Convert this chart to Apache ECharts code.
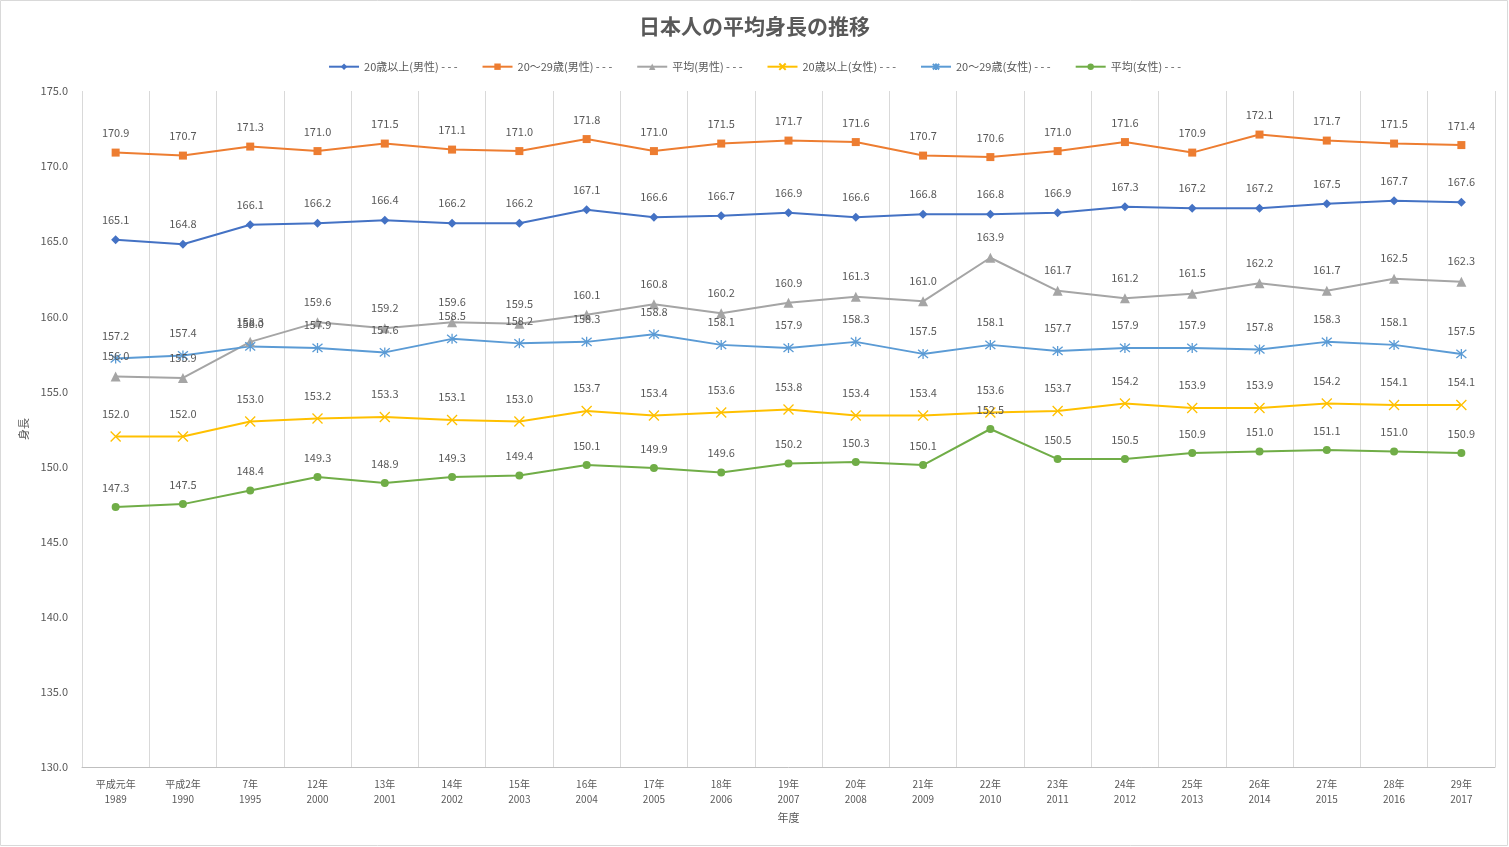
<!DOCTYPE html>
<html><head><meta charset="utf-8">
<script src="https://cdn.jsdelivr.net/npm/echarts@6/dist/echarts.min.js"></script>
<style>html,body{margin:0;padding:0;background:#fff}#c{width:1509px;height:847px}</style>
</head><body><div id="c"></div>
<script>
const categories = ['平成元年\n1989','平成2年\n1990','7年\n1995','12年\n2000','13年\n2001','14年\n2002','15年\n2003','16年\n2004','17年\n2005','18年\n2006','19年\n2007','20年\n2008','21年\n2009','22年\n2010','23年\n2011','24年\n2012','25年\n2013','26年\n2014','27年\n2015','28年\n2016','29年\n2017'];
const male20plus = [165.1,164.8,166.1,166.2,166.4,166.2,166.2,167.1,166.6,166.7,166.9,166.6,166.8,166.8,166.9,167.3,167.2,167.2,167.5,167.7,167.6];
const male20s = [170.9,170.7,171.3,171.0,171.5,171.1,171.0,171.8,171.0,171.5,171.7,171.6,170.7,170.6,171.0,171.6,170.9,172.1,171.7,171.5,171.4];
const maleAvg = [156.0,155.9,158.3,159.6,159.2,159.6,159.5,160.1,160.8,160.2,160.9,161.3,161.0,163.9,161.7,161.2,161.5,162.2,161.7,162.5,162.3];
const female20plus = [152.0,152.0,153.0,153.2,153.3,153.1,153.0,153.7,153.4,153.6,153.8,153.4,153.4,153.6,153.7,154.2,153.9,153.9,154.2,154.1,154.1];
const female20s = [157.2,157.4,158.0,157.9,157.6,158.5,158.2,158.3,158.8,158.1,157.9,158.3,157.5,158.1,157.7,157.9,157.9,157.8,158.3,158.1,157.5];
const femaleAvg = [147.3,147.5,148.4,149.3,148.9,149.3,149.4,150.1,149.9,149.6,150.2,150.3,150.1,152.5,150.5,150.5,150.9,151.0,151.1,151.0,150.9];
const seriesNames = ['20歳以上(男性) - - -','20～29歳(男性) - - -','平均(男性) - - -','20歳以上(女性) - - -','20～29歳(女性) - - -','平均(女性) - - -'];
const colors = ['#4472C4','#ED7D31','#A5A5A5','#FFC000','#5B9BD5','#70AD47'];
const yTicks = {min:130, max:175, interval:5};

const FONT = '"Noto Sans CJK JP", "Noto Sans", sans-serif';
const xPath = 'path://M0,0L10,10M10,0L0,10';
const starPath = 'path://M0,0L10,10M10,0L0,10M5,-1L5,11';
const symbols = [
  {symbol:'diamond', size:9, stroke:false},
  {symbol:'rect', size:8, stroke:false},
  {symbol:'triangle', size:10, stroke:false},
  {symbol:xPath, size:10, stroke:true},
  {symbol:starPath, size:10, stroke:true},
  {symbol:'circle', size:8, stroke:false}
];
const datas = [male20plus, male20s, maleAvg, female20plus, female20s, femaleAvg];

const series = datas.map((d,i)=>({
  name: seriesNames[i],
  type: 'line',
  data: d,
  symbol: symbols[i].symbol,
  symbolSize: symbols[i].size,
  showAllSymbol: true,
  lineStyle: {color: colors[i], width: 2},
  itemStyle: symbols[i].stroke ? {color: 'none', borderColor: colors[i], borderWidth: 1.3} : {color: colors[i]},
  label: {show: true, position: 'top', distance: 10, color: '#595959', fontSize: 11, fontFamily: FONT,
          formatter: p => p.value.toFixed(1)},
  emphasis: {disabled: true},
  animation: false
}));

const chart = echarts.init(document.getElementById('c'), null, {renderer:'canvas'});
chart.setOption({
  animation: false,
  color: colors,
  title: {text: '日本人の平均身長の推移', left: 'center', top: 11,
          textStyle: {fontFamily: FONT, fontSize: 21, fontWeight: 'bold', color: '#595959'}},
  legend: {top: 56, left: 'center', itemGap: 24, itemWidth: 30, itemHeight: 8,
           textStyle: {fontFamily: FONT, fontSize: 11, color: '#595959'},
           data: seriesNames},
  grid: {left: 82, right: 14, top: 91, bottom: 80, containLabel: false},
  xAxis: {
    type: 'category', data: categories, boundaryGap: true,
    name: '年度', nameLocation: 'middle', nameGap: 44,
    nameTextStyle: {fontFamily: FONT, fontSize: 11, color: '#595959'},
    axisLine: {show: true, lineStyle: {color: '#BFBFBF'}},
    axisTick: {show: false},
    splitLine: {show: true, lineStyle: {color: '#D9D9D9'}},
    axisLabel: {fontFamily: FONT, fontSize: 10, color: '#595959', lineHeight: 15, margin: 10, interval: 0}
  },
  yAxis: {
    type: 'value', min: yTicks.min, max: yTicks.max, interval: yTicks.interval,
    name: '身長', nameLocation: 'middle', nameGap: 44, nameRotate: 90,
    nameTextStyle: {fontFamily: FONT, fontSize: 11, color: '#595959'},
    axisLine: {show: false}, axisTick: {show: false},
    splitLine: {show: false},
    axisLabel: {fontFamily: FONT, fontSize: 11, color: '#595959', margin: 14, formatter: v => v.toFixed(1)}
  },
  graphic: [{type:'rect', shape:{x:0.5,y:0.5,width:1507,height:845}, style:{fill:'none', stroke:'#D9D9D9', lineWidth:1}, silent:true}],
  series: series
});
</script></body></html>
